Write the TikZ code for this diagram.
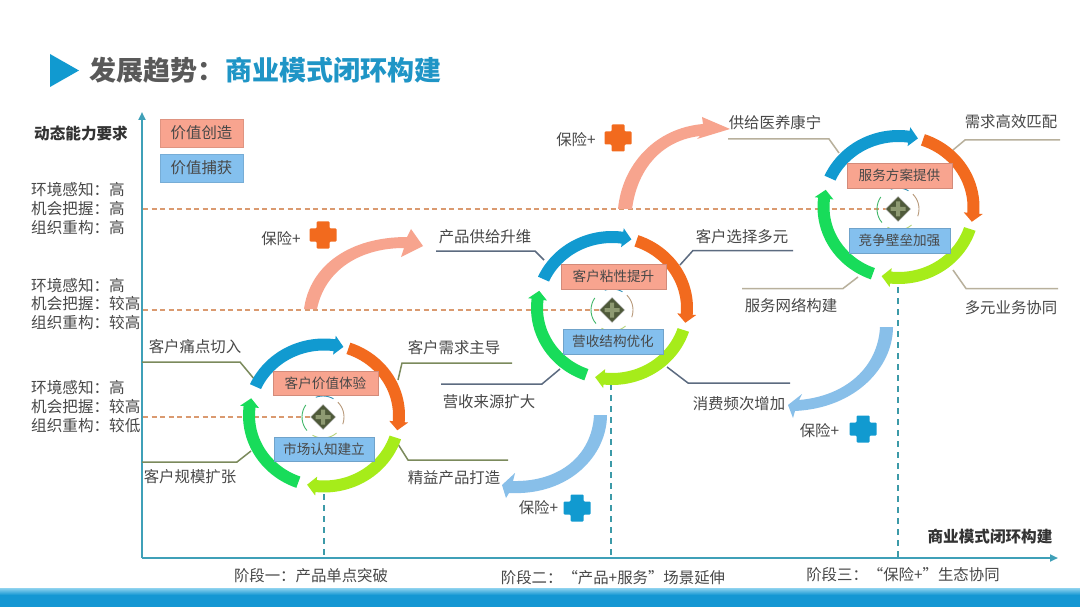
\documentclass[tikz,border=0pt]{standalone}
\usepackage{fontspec}
\setmainfont{Noto Sans CJK SC}
\usetikzlibrary{arrows.meta}
\definecolor{axisc}{HTML}{3FA0B8}
\definecolor{dashc}{HTML}{DA9A70}
\definecolor{stemc}{HTML}{3C9AA8}
\definecolor{ringa}{HTML}{119AD0}
\definecolor{ringb}{HTML}{F26A1E}
\definecolor{ringc}{HTML}{A6EC1A}
\definecolor{ringd}{HTML}{18DC5A}
\definecolor{salm}{HTML}{F8A48F}
\definecolor{skyb}{HTML}{84C0EE}
\definecolor{arrsalm}{HTML}{F7A48E}
\definecolor{arrsky}{HTML}{88BFE9}
\definecolor{txt}{HTML}{484848}
\definecolor{leada}{HTML}{7B8A5C}
\definecolor{leadb}{HTML}{5C6B80}
\definecolor{leadc}{HTML}{B8B09C}
\definecolor{bara}{HTML}{8FD3EF}
\definecolor{barb}{HTML}{1597D3}
\definecolor{hubdark}{HTML}{4F5A3A}
\definecolor{hublight}{HTML}{8E9A72}
\definecolor{titlegray}{HTML}{595959}
\definecolor{titleblue}{HTML}{1F95C6}
\tikzset{
  lbl/.style={inner sep=0pt,text=txt,font=\fontsize{15.4}{18}\selectfont},
  boxlbl/.style={inner sep=0pt,text=txt,font=\fontsize{13.6}{16}\selectfont,minimum height=24.5pt},
  salmbox/.style={boxlbl,fill=salm,draw=salm!85!black,line width=.4pt},
  skybox/.style={boxlbl,fill=skyb,draw=skyb!85!black,line width=.4pt},
  lega/.style={lbl,minimum width=83pt,minimum height=27.5pt},
  levellbl/.style={inner sep=0pt,anchor=west,align=left,text=txt,font=\fontsize{15.6}{18.7}\selectfont},
  boldlbl/.style={inner sep=0pt,text=black!80,font=\fontsize{15.6}{18}\selectfont\bfseries},
  axisline/.style={draw=axisc,line width=2pt,-{Triangle[length=8pt,width=7pt]}},
  levelline/.style={draw=dashc,line width=1.3pt,dash pattern=on 5pt off 3.5pt},
  stemline/.style={draw=stemc,line width=2pt,dash pattern=on 6pt off 5pt},
  leadA/.style={draw=leada,line width=1.5pt},
  leadB/.style={draw=leadb,line width=1.5pt},
  leadC/.style={draw=leadc,line width=1.5pt},
}
\newcommand{\ringseg}[5]{%
  \pgfmathsetmacro{\rsb}{#4-7}%
  \fill[#5] plot[domain=#3:\rsb,samples=24] ({#1+81*cos(\x)},{#2+77*sin(\x)})
   -- ({#1+84.5*cos(\rsb)},{#2+80.5*sin(\rsb)}) -- ({#1+75*cos(#4)},{#2+71*sin(#4)}) -- ({#1+65.5*cos(\rsb)},{#2+61.5*sin(\rsb)})
   -- plot[domain=\rsb:#3,samples=24] ({#1+69*cos(\x)},{#2+65*sin(\x)}) -- cycle;}
\newcommand{\ringall}[2]{%
  \ringseg{#1}{#2}{204}{285}{ringa}
  \ringseg{#1}{#2}{289}{372}{ringb}
  \ringseg{#1}{#2}{18}{103}{ringc}
  \ringseg{#1}{#2}{110}{194}{ringd}}
\newcommand{\hubicon}[2]{%
  \begin{scope}[shift={(#1,#2)}]
    \draw[ringa!70!gray,line width=.9pt] plot[domain=250:300,samples=8] ({21*cos(\x)},{21*sin(\x)});
    \draw[brown!60!gray!80,line width=.9pt] plot[domain=315:380,samples=10] ({21*cos(\x)},{21*sin(\x)});
    \draw[ringc!60!gray!70,line width=.9pt] plot[domain=50:120,samples=10] ({21*cos(\x)},{21*sin(\x)});
    \draw[ringd!60!gray,line width=.9pt] plot[domain=140:215,samples=10] ({21*cos(\x)},{21*sin(\x)});
    \fill[gray!45] (0,-13) -- (5,-8) -- (8,-5) -- (13,0) -- (8,5) -- (5,8) -- (0,13) -- (-5,8) -- (-8,5) -- (-13,0) -- (-8,-5) -- (-5,-8) -- cycle;
    \fill[hubdark] (0,-12) -- (12,0) -- (0,12) -- (-12,0) -- cycle;
    \fill[hublight] (-2,-7.5) rectangle (2,7.5) (-7.5,-2) rectangle (7.5,2);
  \end{scope}}
\newcommand{\plusmark}[3]{%
  \fill[#3,rounded corners=1pt,shift={(#1,#2)}] (-6.5,-13.5) -- (6.5,-13.5) -- (6.5,-6.5) -- (13.5,-6.5) -- (13.5,6.5) -- (6.5,6.5) -- (6.5,13.5) -- (-6.5,13.5) -- (-6.5,6.5) -- (-13.5,6.5) -- (-13.5,-6.5) -- (-6.5,-6.5) -- cycle;}
\begin{document}
\begin{tikzpicture}[x=1pt,y=-1pt]
\useasboundingbox (0,0) rectangle (1080,607);
\fill[white] (0,0) rectangle (1080,607);
% bottom band
\shade[top color=bara,bottom color=barb] (0,588) rectangle (1080,595);
\fill[barb] (0,595) rectangle (1080,607);
% title
\fill[ringa] (50,54) -- (79,70.5) -- (50,87) -- cycle;
\node[anchor=west,inner sep=0pt,text=titlegray,font=\fontsize{27}{30}\selectfont\bfseries] (t1) at (89,70) {发展趋势：};
\node[anchor=west,inner sep=0pt,text=titleblue,font=\fontsize{27}{30}\selectfont\bfseries] (t2) at (225,70) {商业模式闭环构建};
% named points
\coordinate (org) at (142,558);
\coordinate (ytop) at (142,112);
\coordinate (xend) at (1058,558);
\coordinate (r1) at (324,415.5);
\coordinate (r2) at (612,308);
\coordinate (r3) at (898.5,207);
\coordinate (l1) at (143,417);
\coordinate (l2) at (143,310);
\coordinate (l3) at (143,209);
\coordinate (s1a) at (324,494);
\coordinate (s1b) at (324,558);
\coordinate (s2a) at (611,384);
\coordinate (s2b) at (611,558);
\coordinate (s3a) at (898,276);
\coordinate (s3b) at (898,558);
% level lines and stems
\draw[levelline] (l1) -- (r1 |- l1);
\draw[levelline] (l2) -- (r2 |- l2);
\draw[levelline] (l3) -- (r3 |- l3);
\draw[stemline] (s1a) -- (s1b);
\draw[stemline] (s2a) -- (s2b);
\draw[stemline] (s3a) -- (s3b);
% axes
\draw[axisline] (org) -- (ytop);
\draw[axisline] (org) -- (xend);
% leaders ring 1
\coordinate (a1) at (142,362); \coordinate (a2) at (240,362); \coordinate (a3) at (255,380);
\coordinate (b1) at (512,363); \coordinate (b2) at (402,363); \coordinate (b3) at (398,380);
\coordinate (c1) at (508,460); \coordinate (c2) at (408,460); \coordinate (c3) at (396,441);
\coordinate (d1) at (142,462); \coordinate (d2) at (237,462); \coordinate (d3) at (251,451);
\draw[leadA] (a1) -- (a2) -- (a3);
\draw[leadA] (b1) -- (b2) -- (b3);
\draw[leadA] (c1) -- (c2) -- (c3);
\draw[leadA] (d1) -- (d2) -- (d3);
% leaders ring 2
\coordinate (e1) at (436,251); \coordinate (e2) at (535,251); \coordinate (e3) at (544,260);
\coordinate (f1) at (793,250.5); \coordinate (f2) at (693,250.5); \coordinate (f3) at (680,265);
\coordinate (g1) at (790,383); \coordinate (g2) at (688,383); \coordinate (g3) at (667,367);
\coordinate (h1) at (441,384); \coordinate (h2) at (542,384); \coordinate (h3) at (560,369);
\draw[leadB] (e1) -- (e2) -- (e3);
\draw[leadB] (f1) -- (f2) -- (f3);
\draw[leadB] (g1) -- (g2) -- (g3);
\draw[leadB] (h1) -- (h2) -- (h3);
% leaders ring 3
\coordinate (i1) at (728,139); \coordinate (i2) at (829,139); \coordinate (i3) at (839,153);
\coordinate (j1) at (1060,140); \coordinate (j2) at (965,140); \coordinate (j3) at (953,150);
\coordinate (k1) at (1058,288.5); \coordinate (k2) at (966,288.5); \coordinate (k3) at (953,270);
\coordinate (m1) at (742,288.5); \coordinate (m2) at (843,288.5); \coordinate (m3) at (858,277);
\draw[leadC] (i1) -- (i2) -- (i3);
\draw[leadC] (j1) -- (j2) -- (j3);
\draw[leadC] (k1) -- (k2) -- (k3);
\draw[leadC] (m1) -- (m2) -- (m3);
% rings
\ringall{324}{415.5}
\ringall{612}{308}
\ringall{898.5}{207}
\hubicon{323}{417}
\hubicon{612}{310}
\hubicon{898}{209}
% ring boxes
\node[salmbox,minimum width=105pt] (n1) at (325.5,383) {客户价值体验};
\node[skybox,minimum width=100pt] (n2) at (324,449) {市场认知建立};
\node[salmbox,minimum width=105pt] (n3) at (613.5,276.5) {客户粘性提升};
\node[skybox,minimum width=100pt] (n4) at (613,341.5) {营收结构优化};
\node[salmbox,minimum width=105pt] (n5) at (899.5,175.5) {服务方案提供};
\node[skybox,minimum width=101pt] (n6) at (899.5,240.5) {竞争壁垒加强};
% value arrows
\fill[arrsalm] (304,309) .. controls (310,265) and (350,237) .. (407,237) -- (411,229) -- (423,246) -- (401,257) -- (404,248) .. controls (360,248) and (325,270) .. (317,309) -- cycle;
\fill[arrsalm] (618,209) .. controls (622,165) and (655,128) .. (703,124) -- (702,117) -- (730,129) -- (697,139) -- (700,136) .. controls (665,140) and (638,165) .. (632,209) -- cycle;
\fill[arrsky] (607,415) .. controls (607,455) and (570,496) .. (509,493) -- (506,498) -- (502,485) -- (515,473) -- (513,481) .. controls (560,482) and (592,455) .. (594,415) -- cycle;
\fill[arrsky] (893,327) .. controls (893,367) and (856,408) .. (795,411) -- (793,418) -- (788,405) -- (802,394) -- (799,400) .. controls (846,396) and (878,367) .. (880,327) -- cycle;
% crosses
\plusmark{618}{138}{ringb}
\plusmark{323}{235}{ringb}
\plusmark{577}{508}{ringa}
\plusmark{863}{429}{ringa}
\node[lbl] (p1) at (576,140) {保险+};
\node[lbl] (p2) at (281,239) {保险+};
\node[lbl] (p3) at (538.5,508) {保险+};
\node[lbl] (p4) at (819.5,431) {保险+};
% ring labels
\node[lbl] (q1) at (195,347) {客户痛点切入};
\node[lbl] (q2) at (454,348) {客户需求主导};
\node[lbl] (q3) at (454,478) {精益产品打造};
\node[lbl] (q4) at (190,477) {客户规模扩张};
\node[lbl] (q5) at (485,237) {产品供给升维};
\node[lbl] (q6) at (742,237) {客户选择多元};
\node[lbl] (q7) at (489,402) {营收来源扩大};
\node[lbl] (q8) at (739,404) {消费频次增加};
\node[lbl] (q9) at (775,123) {供给医养康宁};
\node[lbl] (q10) at (1011,122) {需求高效匹配};
\node[lbl] (q11) at (791,306) {服务网络构建};
\node[lbl] (q12) at (1011,308) {多元业务协同};
% legend
\node[lega,fill=salm,draw=salm!90!black,line width=.4pt] (v1) at (201.5,133) {价值创造};
\node[lega,fill=skyb,draw=skyb!90!black,line width=.4pt] (v2) at (201.5,168) {价值捕获};
% axis texts
\node[boldlbl] (y0) at (81,134) {动态能力要求};
\node[boldlbl] (x0) at (990,537) {商业模式闭环构建};
\node[levellbl] (w1) at (31,208.5) {环境感知：高\\机会把握：高\\组织重构：高};
\node[levellbl] (w2) at (31,304) {环境感知：高\\机会把握：较高\\组织重构：较高};
\node[levellbl] (w3) at (31,406.5) {环境感知：高\\机会把握：较高\\组织重构：较低};
\node[lbl] (z1) at (311,576) {阶段一：产品单点突破};
\node[lbl] (z2) at (613,578) {阶段二：“产品+服务”场景延伸};
\node[lbl] (z3) at (903,575) {阶段三：“保险+”生态协同};
\end{tikzpicture}
\end{document}
